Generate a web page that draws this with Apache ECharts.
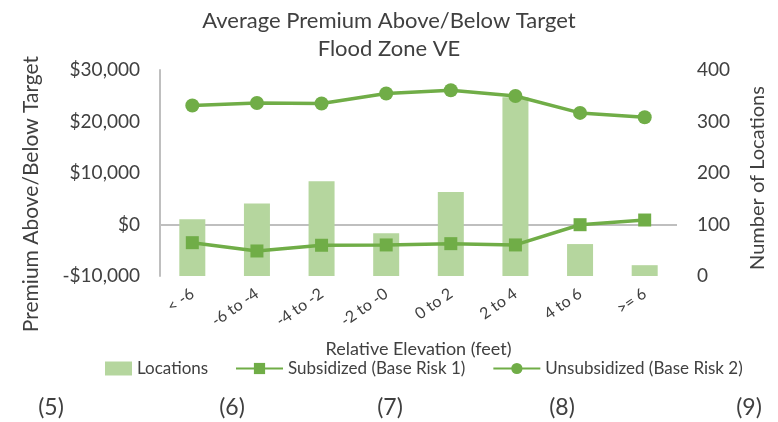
<!DOCTYPE html>
<html>
<head>
<meta charset="utf-8">
<script src="https://cdn.jsdelivr.net/npm/echarts@6/dist/echarts.min.js"></script>
<style>
  html, body { margin: 0; padding: 0; background: #fff; }
  #chart { width: 778px; height: 422px; }
</style>
</head>
<body>
<div id="chart"></div>
<script>
const categories = ['< -6', '-6 to -4', '-4 to -2', '-2 to -0', '0 to 2', '2 to 4', '4 to 6', '>= 6']
const locations = [110, 141, 184, 83, 163, 347, 62, 21]
const subsidized = [-3530, -5140, -4030, -3970, -3720, -3970, -40, 870]
const unsubsidized = [23100, 23600, 23490, 25430, 26070, 24960, 21670, 20830]
const footLabels = ['(5)', '(6)', '(7)', '(8)', '(9)']
const footX = [51, 232, 390, 562, 749]

const font = 'Lato'
const txt = '#404040'
const green = '#70AD47'
const barColor = '#B5D69E'

const myChart = echarts.init(document.getElementById('chart'))

// footer numbers and the two rotated axis titles
const graphics = footLabels.map((t, i) => ({
  type: 'text', x: footX[i], y: 408,
  style: { text: t, font: '23px ' + font, fill: txt, align: 'center', verticalAlign: 'middle' }
}))
graphics.push({
  type: 'text', x: 31, y: 194, rotation: Math.PI / 2,
  style: { text: 'Premium Above/Below Target', font: '21px ' + font, fill: txt, align: 'center', verticalAlign: 'middle' }
})
graphics.push({
  type: 'text', x: 758, y: 178, rotation: Math.PI / 2,
  style: { text: 'Number of Locations', font: '20px ' + font, fill: txt, align: 'center', verticalAlign: 'middle' }
})

const legendText = { fontSize: 17, color: txt, fontFamily: font }

const options = {
  animation: false,
  textStyle: { fontFamily: font },
  title: {
    text: 'Average Premium Above/Below Target\nFlood Zone VE',
    left: 'center', top: 2,
    textStyle: { fontSize: 22, fontWeight: 'normal', color: txt, lineHeight: 28, fontFamily: font }
  },
  grid: { left: 160, right: 101, top: 70, bottom: 146 },
  legend: [
    {
      left: 100, top: 355,
      itemWidth: 27, itemHeight: 14,
      textStyle: legendText,
      data: [{ name: 'Locations', icon: 'rect', itemStyle: { color: barColor } }]
    },
    {
      left: 230, top: 355,
      itemWidth: 47, itemHeight: 14, itemGap: 27,
      textStyle: legendText,
      data: ['Subsidized (Base Risk 1)', 'Unsubsidized (Base Risk 2)']
    }
  ],
  xAxis: {
    type: 'category',
    data: categories,
    name: 'Relative Elevation (feet)',
    nameLocation: 'middle',
    nameGap: 64,
    nameTextStyle: { fontSize: 18, color: txt },
    axisLine: { show: false, onZero: false },
    axisTick: { show: false },
    axisLabel: { rotate: 35, fontSize: 16, color: txt, margin: 16 }
  },
  yAxis: [
    {
      type: 'value', min: -10000, max: 30000, interval: 10000,
      axisLine: { show: true, lineStyle: { color: '#BFBFBF', width: 2 } },
      axisTick: { show: false },
      splitLine: { show: false },
      axisLabel: {
        fontSize: 19, color: txt, margin: 20,
        formatter: v => (v < 0 ? '-$' : '$') + Math.abs(v).toLocaleString('en-US')
      }
    },
    {
      type: 'value', min: 0, max: 400, interval: 100,
      axisLine: { show: false },
      axisTick: { show: false },
      splitLine: { show: false },
      axisLabel: { fontSize: 19, color: txt, margin: 20 }
    }
  ],
  series: [
    {
      name: 'Locations', type: 'bar', yAxisIndex: 1,
      data: locations, barWidth: 26,
      itemStyle: { color: barColor }
    },
    {
      name: 'Subsidized (Base Risk 1)', type: 'line', yAxisIndex: 0,
      data: subsidized,
      symbol: 'rect', symbolSize: 13,
      lineStyle: { color: green, width: 3.5 },
      itemStyle: { color: green },
      markLine: {
        silent: true, symbol: 'none', label: { show: false },
        lineStyle: { color: '#BFBFBF', width: 2, type: 'solid' },
        data: [{ yAxis: 0 }],
        z: 1
      },
      z: 3
    },
    {
      name: 'Unsubsidized (Base Risk 2)', type: 'line', yAxisIndex: 0,
      data: unsubsidized,
      symbol: 'circle', symbolSize: 14,
      lineStyle: { color: green, width: 3.5 },
      itemStyle: { color: green },
      z: 3
    }
  ],
  graphic: graphics
}

myChart.setOption(options)
</script>
</body>
</html>
